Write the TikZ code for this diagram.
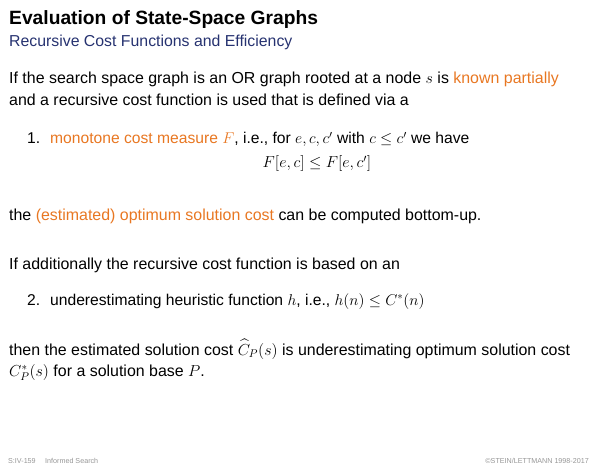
\documentclass[tikz,border=0pt]{standalone}
\usepackage{fix-cm}
\usepackage[no-math]{fontspec}
\setmainfont{Liberation Sans}
\usepackage{amsmath}
\usepackage{amssymb}
\usepackage{tikz}
\definecolor{hlorange}{RGB}{232,119,34}
\definecolor{subblue}{RGB}{38,50,112}
\definecolor{footgray}{RGB}{150,150,150}
\newcommand{\hl}[1]{\textcolor{hlorange}{#1}}
\begin{document}
\begin{tikzpicture}
  [x=1bp,y=-1bp,every node/.style={anchor=base west,inner sep=0pt},
   body/.style={font=\fontsize{16}{20}\selectfont},
   item/.style={font=\fontsize{15.7}{20}\selectfont},
   foot/.style={font=\fontsize{7.2}{8}\selectfont,text=footgray}]
  \useasboundingbox (0,0) rectangle (600,467);
  \node[font=\fontsize{19.3}{22}\selectfont\bfseries] (title) at (9,25) {Evaluation of State-Space Graphs};
  \node[font=\fontsize{15.9}{18}\selectfont,text=subblue] (sub) at (9,47) {Recursive Cost Functions and Efficiency};

  \node[body] (l1) at (9,84) {If the search space graph is an OR graph rooted at a node $s$ is \hl{known partially}};
  \node[body] (l2) at (9,106) {and a recursive cost function is used that is defined via a};
  \node[item] (n1) at (27,144) {1.};
  \node[item] (i1) at (50,144) {\hl{monotone cost measure $F$}, i.e., for $e,c,c'$ with $c\leq c'$ we have};
  \node[font=\fontsize{16}{20}\selectfont,anchor=base] (eq) at (317,168) {$F[e,c]\leq F[e,c']$};
  \node[body] (l3) at (9,221) {the \hl{(estimated) optimum solution cost} can be computed bottom-up.};

  \node[body] (l4) at (9,270) {If additionally the recursive cost function is based on an};
  \node[item] (n2) at (27,305) {2.};
  \node[item] (i2) at (50,305) {underestimating heuristic function $h$, i.e., $h(n)\leq C^*(n)$};
  \node[body] (l5) at (9,355) {then the estimated solution cost $\widehat{C}_P(s)$ is underestimating optimum solution cost};
  \node[body] (l6) at (9,376) {$C^*_P(s)$ for a solution base $P$.};

  \node[foot] (f1) at (8,463) {S:IV-159};
  \node[foot] (f2) at (45,463) {Informed Search};
  \node[foot,anchor=base east] (f3) at (589,463) {\copyright STEIN/LETTMANN 1998-2017};
\end{tikzpicture}
\end{document}
